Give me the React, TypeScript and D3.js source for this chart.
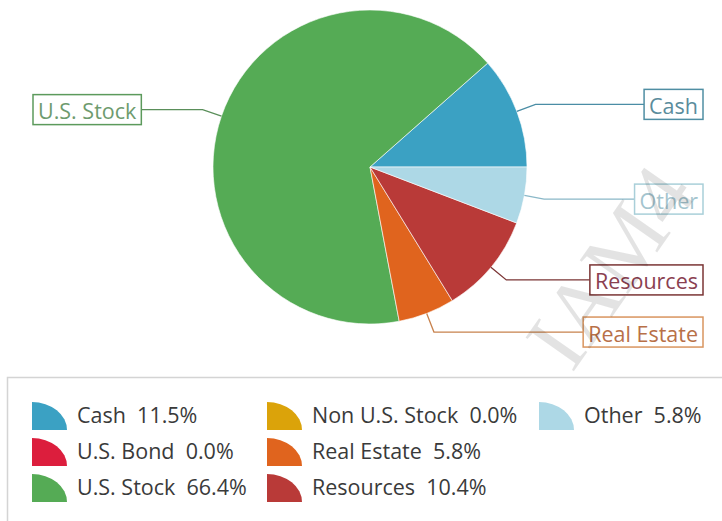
import React, { useEffect, useRef } from "react";
import * as d3 from "d3";

const categories = ["Cash", "U.S. Bond", "U.S. Stock", "Non U.S. Stock", "Real Estate", "Resources", "Other"];
const values = [11.5, 0.0, 66.4, 0.0, 5.8, 10.4, 5.8];
const legendLabels = ["Cash  11.5%", "U.S. Bond  0.0%", "U.S. Stock  66.4%", "Non U.S. Stock  0.0%", "Real Estate  5.8%", "Resources  10.4%", "Other  5.8%"];
const watermark = "IAM4";

const fills = ["#3ba1c3", "#dc1e3d", "#55ab55", "#dba30a", "#e0641e", "#b93a38", "#add8e6"];
const labelBorder = ["#4f8ea3", "#a0303f", "#5c9a5c", "#b98a20", "#d9955f", "#7b3535", "#a9cfd9"];
const labelText = ["#5a8c9c", "#a0303f", "#6e9b6e", "#b98a20", "#b87048", "#8a4050", "#a4c4ce"];
const lineColor = ["#4a8da5", "#a0303f", "#5a8f5a", "#b98a20", "#c8824d", "#7b3535", "#8ab8c8"];

const W = 722;
const H = 521;
const FONT = "'Open Sans', sans-serif";

export default function App() {
  const ref = useRef<SVGSVGElement | null>(null);

  useEffect(() => {
    const svg = d3.select(ref.current);
    svg.selectAll("*").remove();

    const cx = 370, cy = 167, r = 157;
    const pie = d3.pie<number>().sort(null).value((d) => d)
      .startAngle(Math.PI / 2).endAngle(Math.PI / 2 - 2 * Math.PI);
    const arcs = pie(values);
    const arcGen = d3.arc<d3.PieArcDatum<number>>().innerRadius(0).outerRadius(r);

    const g = svg.append("g").attr("transform", `translate(${cx},${cy})`);
    g.selectAll("path.slice")
      .data(arcs.filter((a) => a.value > 0))
      .join("path")
      .attr("class", "slice")
      .attr("d", (d) => arcGen(d) as string)
      .attr("fill", (d) => fills[d.index])
      .attr("stroke", "#ffffff")
      .attr("stroke-opacity", 0.6)
      .attr("stroke-width", 1);

    // labels
    const fs = 21.5;
    const pad = 5;
    const boxH = 30;
    arcs.forEach((a) => {
      if (a.value <= 0) return;
      const i = a.index;
      const mid = (a.startAngle + a.endAngle) / 2;
      const sx = Math.sin(mid), sy = -Math.cos(mid);
      const p0 = [cx + r * sx, cy + r * sy];
      const p1 = [cx + (r + 20) * sx, cy + (r + 20) * sy];
      const right = sx > 0;
      const t = svg.append("text")
        .attr("font-family", FONT)
        .attr("font-size", fs)
        .attr("fill", labelText[i])
        .attr("dominant-baseline", "central")
        .text(categories[i]);
      const tw = (t.node() as SVGTextElement).getComputedTextLength();
      const bw = tw + pad * 2;
      const bx = right ? 703 - bw : 33;
      const by = p1[1] - boxH / 2;
      t.attr("x", bx + pad).attr("y", p1[1] + 1);
      const lineEnd = right ? bx : bx + bw;
      svg.insert("path", "text")
        .attr("d", `M${p0[0]},${p0[1]}L${p1[0]},${p1[1]}L${lineEnd},${p1[1]}`)
        .attr("fill", "none")
        .attr("stroke", lineColor[i])
        .attr("stroke-width", 1.3);
      svg.insert("rect", "text")
        .attr("x", bx).attr("y", by).attr("width", bw).attr("height", boxH)
        .attr("fill", "#ffffff")
        .attr("stroke", labelBorder[i])
        .attr("stroke-width", 1.5);
    });

    // legend
    svg.append("rect")
      .attr("x", 7.5).attr("y", 377.5).attr("width", 740).attr("height", 200)
      .attr("fill", "none").attr("stroke", "#d4d4d4").attr("stroke-width", 1.5);
    const colX = [32, 267, 539];
    const rowY = [423, 459, 495];
    const iw = 35, ih = 28;
    categories.forEach((c, i) => {
      const col = Math.floor(i / 3), row = i % 3;
      const x = colX[col], base = rowY[row];
      const y0 = base - 21, y1 = y0 + ih;
      svg.append("path")
        .attr("d", `M${x},${y1}L${x},${y0}A${iw},${ih} 0 0 1 ${x + iw},${y1}Z`)
        .attr("fill", fills[i]);
      svg.append("text")
        .attr("x", x + 45).attr("y", base)
        .attr("font-family", FONT)
        .attr("font-size", fs)
        .attr("fill", "#3a3a3a")
        .attr("xml:space", "preserve")
        .style("white-space", "pre")
        .text(legendLabels[i]);
    });

    // watermark
    svg.append("text")
      .attr("transform", "translate(572,374) rotate(-55)")
      .attr("font-family", "'Liberation Serif', serif")
      .attr("font-size", 90)
      .attr("fill", "#000000")
      .attr("fill-opacity", 0.11)
      .text(watermark);
  }, []);

  return (
    <svg
      ref={ref}
      width={W}
      height={H}
      style={{ position: "absolute", left: 0, top: 0, background: "#ffffff" }}
    />
  );
}
